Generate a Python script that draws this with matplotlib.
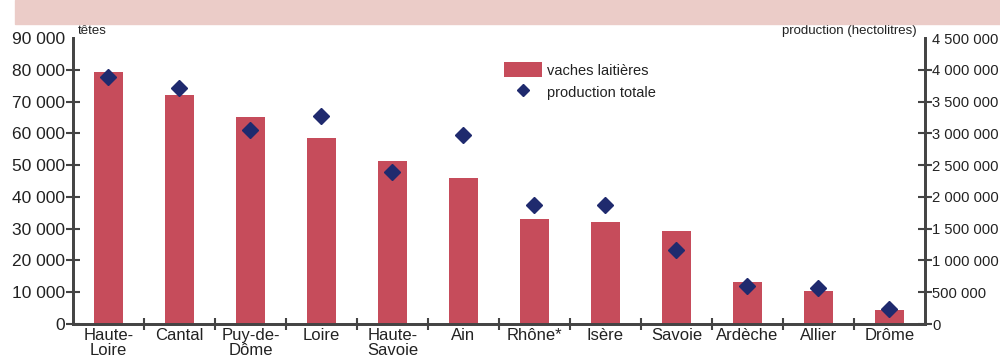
import matplotlib
matplotlib.use("Agg")
import matplotlib.pyplot as plt
from matplotlib.patches import Rectangle
from matplotlib.ticker import FuncFormatter

plt.rcParams['font.family'] = ['Liberation Sans Narrow', 'Liberation Sans', 'DejaVu Sans']

departements = ["Haute-\nLoire", "Cantal", "Puy-de-\nDôme", "Loire", "Haute-\nSavoie", "Ain",
                "Rhône*", "Isère", "Savoie", "Ardèche", "Allier", "Drôme"]
vaches = [79400, 72200, 65000, 58600, 51200, 46000, 33000, 32000, 29300, 13300, 10500, 4300]
production = [3890000, 3720000, 3050000, 3280000, 2390000, 2970000,
              1880000, 1870000, 1160000, 600000, 560000, 236000]

left_ticks = list(range(0, 90001, 10000))
right_ticks = list(range(0, 4500001, 500000))

bar_color = "#C64C5B"
dot_color = "#1F2A6E"
axis_color = "#444444"
text_color = "#222222"

fig = plt.figure(figsize=(10, 3.57), dpi=100)

# bandeau du titre (coupé en haut)
fig.patches.append(Rectangle((0.015, 1 - 24 / 357), 0.985, 24 / 357, transform=fig.transFigure,
                             color="#EBCCC8", zorder=0))

ax = fig.add_axes([73 / 1000, 1 - 324 / 357, 852 / 1000, (324 - 38) / 357])
ax2 = ax.twinx()

x = list(range(len(departements)))
bars = ax.bar(x, vaches, width=0.41, color=bar_color, zorder=2, label="vaches laitières")
pts, = ax2.plot(x, production, linestyle="none", marker="D", markersize=8,
                color=dot_color, zorder=3, label="production totale")

ax.set_xlim(-0.5, len(departements) - 0.5)
ax.set_ylim(0, 90000)
ax2.set_ylim(0, 4500000)

fmt = FuncFormatter(lambda v, p: f"{int(v):,}".replace(",", " "))
ax.set_yticks(left_ticks)
ax.yaxis.set_major_formatter(fmt)
ax2.set_yticks(right_ticks)
ax2.yaxis.set_major_formatter(fmt)

# ticks entre les catégories, étiquettes au centre
ax.set_xticks([i + 0.5 for i in x[:-1]])
ax.set_xticklabels([])
ax.set_xticks(x, minor=True)
ax.set_xticklabels(departements, minor=True, fontsize=12, color=text_color, linespacing=0.95, va="top")
ax.tick_params(axis="x", which="minor", length=0, pad=3)
ax.tick_params(axis="x", which="major", direction="inout", length=8, width=1.5, color=axis_color)

ax.tick_params(axis="y", direction="inout", length=10, width=1.5, color=axis_color,
               labelsize=12.5, labelcolor=text_color, pad=1)
ax2.tick_params(axis="y", direction="inout", length=10, width=1.5, color=axis_color,
                labelsize=10.6, labelcolor=text_color, pad=0)
ax.yaxis.get_major_ticks()[-1].tick1line.set_visible(False)
ax2.yaxis.get_major_ticks()[-1].tick2line.set_visible(False)

for a in (ax, ax2):
    a.spines["top"].set_visible(False)
    for s in ("left", "right", "bottom"):
        a.spines[s].set_color(axis_color)
        a.spines[s].set_linewidth(2)

ax.text(0.006, 1.005, "têtes", transform=ax.transAxes, fontsize=9.5, color=text_color, va="bottom")
ax2.text(0.99, 1.005, "production (hectolitres)", transform=ax2.transAxes, fontsize=9.5,
         color=text_color, va="bottom", ha="right")

leg = fig.legend(handles=[bars, pts], loc="upper left", bbox_to_anchor=(0.497, 1 - 55 / 357),
                 frameon=False, fontsize=10.5, handlelength=2.6, handleheight=1.2, handletextpad=0.3,
                 labelspacing=0.45, borderpad=0, labelcolor=text_color, markerscale=0.75)

fig.savefig("out.png", dpi=100)
